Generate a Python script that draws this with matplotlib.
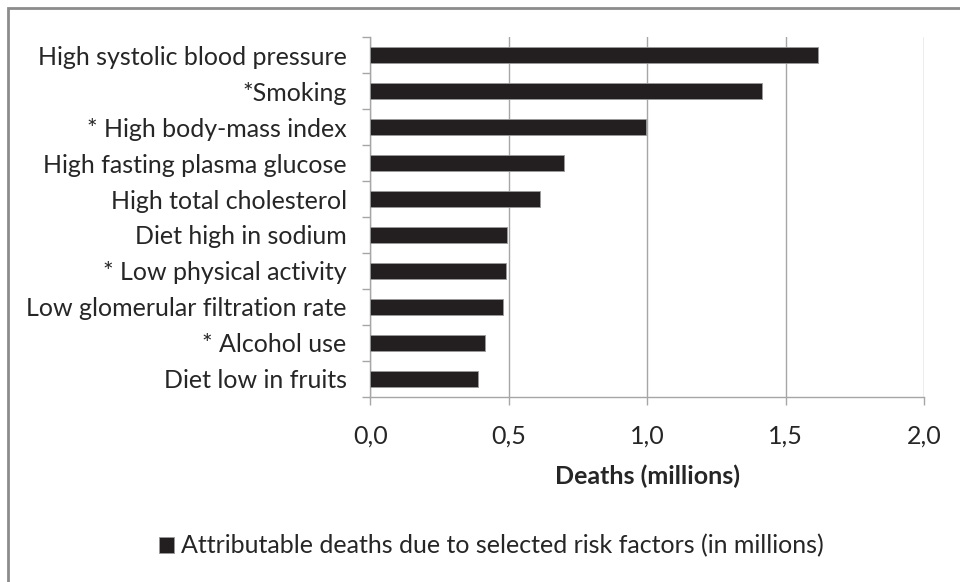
import numpy as np
import matplotlib
matplotlib.use("Agg")
import matplotlib.pyplot as plt
from matplotlib.patches import Rectangle
from matplotlib.ticker import FixedLocator, FuncFormatter

# ===== Data =====
risk_factors = [
    "High systolic blood pressure",
    "*Smoking",
    "* High body-mass index",
    "High fasting plasma glucose",
    "High total cholesterol",
    "Diet high in sodium",
    "* Low physical activity",
    "Low glomerular filtration rate",
    "* Alcohol use",
    "Diet low in fruits",
]
deaths = [1.617, 1.414, 0.994, 0.700, 0.614, 0.492, 0.489, 0.480, 0.414, 0.390]
x_ticks = [0.0, 0.5, 1.0, 1.5, 2.0]
legend_label = "Attributable deaths due to selected risk factors (in millions)"

BAR = "#231f20"
GRID = "#a6a6a6"
TEXT = "#262626"
FS = 18

plt.rcParams["font.family"] = ["Lato", "DejaVu Sans"]

fig = plt.figure(figsize=(9.6, 5.82), dpi=100)
ax = fig.add_axes([0.3857, 0.3179, 0.5771, 0.6185])

y = np.arange(len(risk_factors))
ax.barh(y, deaths, height=0.42, color=BAR, edgecolor="#9a9a9a",
        linewidth=0.6, label=legend_label, zorder=3)

ax.set_ylim(len(risk_factors) - 0.5, -0.5)
ax.set_xlim(0, 2.0)

# ===== Axes styling =====
ax.set_yticks(y)
ax.set_yticklabels(risk_factors, fontsize=FS, color=TEXT)
ax.yaxis.set_minor_locator(FixedLocator(np.arange(-0.5, len(risk_factors), 1.0)))
ax.tick_params(axis="y", which="major", length=0, pad=17)
ax.tick_params(axis="y", which="minor", length=6, color=GRID, width=1)

ax.set_xticks(x_ticks)
ax.xaxis.set_major_formatter(FuncFormatter(lambda v, p: f"{v:.1f}".replace(".", ",")))
ax.tick_params(axis="x", length=6, color=GRID, width=1, pad=14,
               labelsize=FS, labelcolor=TEXT)
ax.set_xlabel("Deaths (millions)", fontsize=FS, fontweight="bold",
              color=TEXT, labelpad=12)

ax.grid(axis="x", color=GRID, linewidth=1, zorder=0)
for s in ["top", "right"]:
    ax.spines[s].set_visible(False)
for s in ["left", "bottom"]:
    ax.spines[s].set_color(GRID)
    ax.spines[s].set_linewidth(1)

# ===== Legend =====
fig.legend(loc="center", bbox_to_anchor=(0.512, 0.062), frameon=False,
           fontsize=FS, handlelength=0.6, handleheight=0.6,
           handletextpad=0.3, labelcolor=TEXT)

# ===== Outer border =====
fig.patches.append(Rectangle((0.0083, -0.1), 1.2, 0.1 + 0.986,
                             transform=fig.transFigure, fill=False,
                             edgecolor="#8c8c8c", linewidth=2))

fig.savefig("out.png", dpi=100)
